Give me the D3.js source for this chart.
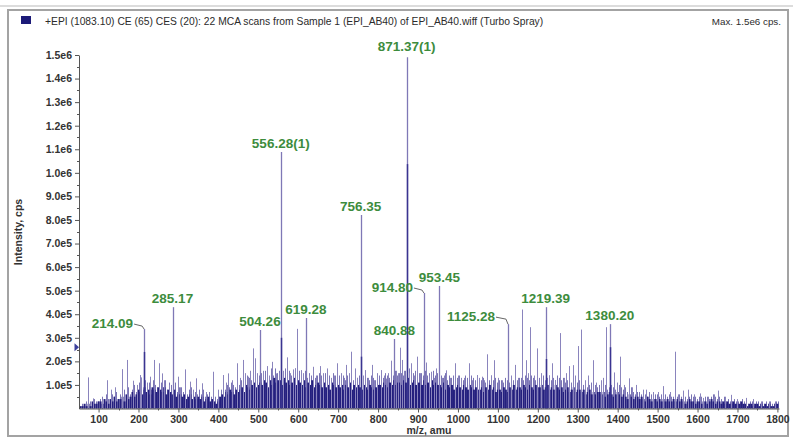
<!DOCTYPE html>
<html>
<head>
<meta charset="utf-8">
<script src="https://cdn.jsdelivr.net/npm/d3@7"></script>
<style>
  html, body { margin: 0; padding: 0; background: #fff; }
  svg { display: block; font-family: "Liberation Sans", Arial, sans-serif; }
</style>
</head>
<body>
<svg id="chart" width="793" height="440"></svg>
<script>
// ---- header text ----
const titleText = "+EPI (1083.10) CE (65) CES (20): 22 MCA scans from Sample 1 (EPI_AB40) of EPI_AB40.wiff (Turbo Spray)";
const maxText = "Max. 1.5e6 cps.";
const xAxisTitle = "m/z, amu";
const yAxisTitle = "Intensity, cps";

// ---- axis ticks ----
const xTickValues = [100, 200, 300, 400, 500, 600, 700, 800, 900, 1000, 1100, 1200, 1300, 1400, 1500, 1600, 1700, 1800];
const yTickValues = [1e5, 2e5, 3e5, 4e5, 5e5, 6e5, 7e5, 8e5, 9e5, 1e6, 1.1e6, 1.2e6, 1.3e6, 1.4e6, 1.5e6];
const yTickLabels = ["1.0e5", "2.0e5", "3.0e5", "4.0e5", "5.0e5", "6.0e5", "7.0e5", "8.0e5", "9.0e5",
                     "1.0e6", "1.1e6", "1.2e6", "1.3e6", "1.4e6", "1.5e6"];

// ---- labelled peaks (m/z, intensity in cps) ----
const peakMz = [214.09, 285.17, 504.26, 556.28, 619.28, 756.35, 840.88, 871.37, 914.80, 953.45, 1125.28, 1219.39, 1380.20];
const peakIntensity = [3.37e5, 4.30e5, 3.33e5, 1.088e6, 3.84e5, 8.21e5, 2.95e5, 1.49e6, 4.90e5, 5.20e5, 3.58e5, 4.30e5, 3.58e5];
const peakLabels = ["214.09", "285.17", "504.26", "556.28(1)", "619.28", "756.35", "840.88", "871.37(1)", "914.80", "953.45", "1125.28", "1219.39", "1380.20"];

// ---- isotope partners of the labelled ions ----
const isotopeMz = [215.09, 557.28, 757.35, 872.37, 1220.39, 1381.20];
const isotopeIntensity = [2.4e5, 3.0e5, 2.2e5, 1.037e6, 2.1e5, 2.6e5];

// ---- unlabelled fragment sticks (m/z, intensity in units of 1e5 cps) ----
const spikeMz = [74.5, 86, 109, 121, 132, 140, 159, 171, 186, 195, 203, 207, 222, 229, 240, 251, 258, 265, 276,
  298, 305, 316, 329, 337, 344, 358, 370, 386, 398, 412, 418, 425, 435, 446, 453, 461, 467, 473, 480, 486, 492, 498,
  512, 521, 527, 534, 544, 551, 563, 573, 580, 586, 591, 597, 606, 613, 627, 638, 645, 655, 662, 673, 681, 690, 698,
  708, 714, 720, 727, 732, 741, 748, 762, 768, 775, 784, 790, 797, 808, 815, 821, 826, 832, 845, 849, 855, 861, 866,
  877, 883, 890, 898, 905, 921, 927, 933, 940, 946, 959, 965, 971, 980, 993, 1000, 1007, 1015, 1028, 1036, 1047,
  1053, 1059, 1066, 1074, 1082, 1091, 1100, 1111, 1133, 1143, 1150, 1161, 1170, 1176, 1181, 1190, 1199, 1208, 1227,
  1235, 1244, 1256, 1265, 1270, 1279, 1287, 1293, 1300, 1307, 1318, 1326, 1339, 1346, 1357, 1364, 1371, 1391, 1398,
  1406, 1415, 1428, 1437, 1446, 1464, 1472, 1489, 1500, 1513, 1530, 1543, 1552, 1563, 1575, 1590, 1605, 1614, 1625,
  1640, 1652, 1668, 1683, 1700, 1722, 1740, 1760, 1779, 1795];
const spikeIntensity = [1.32, 0.43, 0.36, 1.2, 0.8, 0.9, 1.67, 2.06, 1.18, 1.0, 1.42, 1.32, 1.1, 1.35, 2.06, 1.92, 1.49, 1.2, 1.0,
  1.35, 0.9, 1.66, 1.14, 0.8, 1.28, 1.07, 0.7, 1.56, 0.8, 1.42, 1.1, 1.49, 1.2, 1.92, 1.3, 2.06, 1.5, 1.35, 1.6, 2.55, 2.13, 1.5,
  1.6, 1.8, 1.4, 1.98, 1.49, 1.5, 1.6, 2.17, 1.5, 1.66, 1.7, 3.38, 1.63, 1.5, 1.4, 1.77, 1.4, 1.8, 1.5, 1.7, 1.3, 1.4, 1.92,
  1.5, 1.3, 1.85, 1.5, 2.41, 1.7, 1.3, 1.4, 1.63, 1.3, 1.85, 1.2, 1.5, 1.63, 1.4, 1.27, 1.5, 2.03, 1.6, 1.5, 2.58, 2.06, 1.6,
  1.5, 1.92, 1.4, 2.2, 1.5, 1.95, 1.4, 1.56, 1.3, 1.7, 1.3, 1.4, 1.62, 1.3, 1.92, 1.4, 1.28, 1.3, 1.92, 1.2, 1.42,
  1.3, 1.35, 1.2, 2.3, 1.4, 2.05, 1.3, 1.2, 1.4, 1.85, 1.3, 4.2, 2.05, 1.5, 3.45, 1.4, 2.55, 1.5, 1.4,
  1.92, 1.2, 3.2, 1.3, 1.5, 1.8, 1.84, 1.4, 2.65, 3.35, 1.2, 1.4, 2.05, 1.1, 1.2, 1.3, 3.45, 1.53, 1.1,
  2.2, 1.0, 1.28, 0.9, 1.0, 0.8, 0.8, 0.7, 0.7, 0.95, 0.7, 2.41, 0.6, 0.76, 0.8, 0.6, 0.64, 0.45, 0.5,
  0.6, 0.76, 0.5, 0.58, 0.4, 0.45, 0.4, 0.3, 0.3, 0.3];

// ---- dense chemical background on a 5 amu grid from m/z 55 (units of 1e4 cps) ----
const backgroundStartMz = 55;
const backgroundStepMz = 5;
// solid lower continuum
const backgroundLevel = [
  1,1,2,1,2,1,3,2,2,3,   3,2,4,3,2,4,3,5,3,4,   4,5,3,6,4,5,7,5,6,8,   7,6,9,7,8,6,9,8,7,9,
  8,7,9,6,8,7,6,8,5,6,   6,5,6,4,5,6,4,5,4,5,   4,5,3,4,5,3,4,3,2,3,   5,6,5,7,6,8,7,6,8,7,
  8,9,7,10,9,8,10,11,9,10,  11,10,12,11,9,12,10,13,11,12,  12,10,13,11,12,10,11,13,10,12,
  11,10,12,9,11,10,12,9,10,11,  10,9,11,9,10,8,11,10,9,10,  9,10,8,10,9,11,8,10,9,10,
  9,8,10,9,8,10,9,8,9,10,  10,9,11,10,9,11,10,12,10,11,  11,10,12,11,13,10,11,12,10,11,
  11,10,12,10,11,9,12,10,11,10,  10,9,11,8,10,9,10,8,9,10,  9,8,10,9,8,10,9,8,9,8,
  8,9,7,9,8,10,8,9,7,8,   8,7,9,8,7,9,8,10,8,9,   9,8,10,9,8,10,9,8,10,9,   9,10,8,9,10,8,9,8,10,9,
  8,9,7,8,9,7,8,9,7,8,    8,7,8,6,7,8,6,7,6,7,    7,6,7,5,6,7,6,5,6,7,    6,5,6,5,4,6,5,4,5,5,
  4,5,4,3,5,4,3,4,4,3,    4,3,4,3,4,3,3,4,3,4,    3,4,3,2,3,4,3,3,2,3,    3,2,3,3,2,3,4,3,2,3,
  3,2,3,2,3,2,2,3,2,2,    2,3,2,2,1,2,2,1,2,2,    1,2,1,2,1,2,1,1,2,2
];
// lighter upper fringe of the continuum, sampled half a step later
const fringeLevel = [
  2,1,3,2,3,2,4,3,3,4,   5,3,6,4,3,6,5,7,4,6,   6,8,5,9,6,8,10,7,9,11,   10,8,12,9,11,8,12,10,9,12,
  11,9,12,8,11,10,8,11,7,9,   9,7,8,6,8,9,6,7,6,8,   6,8,5,6,7,5,6,5,4,5,   8,9,8,10,9,11,10,9,12,10,
  12,13,10,14,13,12,14,15,12,14,  15,14,16,15,13,17,14,17,15,16,  16,14,17,15,16,14,15,17,14,16,
  15,14,16,13,15,14,16,13,14,15,  14,13,15,13,14,12,15,14,13,14,  13,14,12,14,13,15,12,14,13,14,
  13,12,14,13,12,14,13,12,13,14,  14,13,15,14,13,15,14,16,14,15,  15,14,16,15,17,14,15,16,14,15,
  15,14,16,14,15,13,16,14,15,14,  14,13,15,12,14,13,14,12,13,14,  13,12,14,13,12,14,13,12,13,12,
  12,13,11,13,12,14,12,13,11,12,  12,11,13,12,11,13,12,14,12,13,  13,12,14,13,12,14,13,12,14,13,
  13,14,12,13,14,12,13,12,14,13,  12,13,11,12,13,11,12,13,11,12,  11,10,11,9,10,11,9,10,9,10,
  10,9,10,8,9,10,9,8,9,10,  9,8,9,7,6,9,7,6,7,7,   6,7,6,5,7,6,5,6,6,5,   6,5,6,5,6,5,5,6,5,6,
  5,6,5,4,5,6,5,5,4,5,   5,4,5,5,4,5,6,5,4,5,   4,3,5,3,4,3,3,4,3,3,   3,4,3,3,2,3,3,2,3,3,
  2,3,2,3,2,3,2,2,3,3
];

// level of the acquisition threshold marker on the intensity axis
const thresholdIntensity = 2.6e5;

// ---- label placement (pixel offsets from the peak apex) ----
const labelLayout = {
  "214.09":    { dx: -11, dy: -1, anchor: "end", leader: true },
  "914.80":    { dx: -11, dy: -1, anchor: "end", leader: true },
  "1125.28":   { dx: -13, dy: -3, anchor: "end", leader: true },
  "871.37(1)": { dx: 0, dy: -6, anchor: "middle" }
};
const defaultLayout = { dx: 0, dy: -4, anchor: "middle" };

// ---- drawing ----
const W = 793, H = 440;
const svg = d3.select("#chart");

const colors = {
  frame: "#a3a3a3",
  text: "#2b2b2b",
  axis: "#555",
  background: "#241f7e",
  fringe: "#7a74b5",
  stick: "#8a84bd",
  peak: "#7f78b6",
  isotope: "#3a3491",
  label: "#3d8c3d",
  legend: "#1c1a78"
};

svg.append("rect").attr("width", W).attr("height", H).attr("fill", "#fff");

// window frame
svg.append("line").attr("x1", 0).attr("x2", W).attr("y1", 6).attr("y2", 6)
  .attr("stroke", "#dcdcdc").attr("stroke-width", 2);
svg.append("rect").attr("x", 8).attr("y", 10).attr("width", 780).attr("height", 426)
  .attr("fill", "none").attr("stroke", colors.frame).attr("stroke-width", 2);

// header
svg.append("rect").attr("x", 21).attr("y", 16).attr("width", 10).attr("height", 8).attr("fill", colors.legend);
svg.append("text").attr("x", 45).attr("y", 24.5).attr("font-size", 10.3).attr("fill", colors.text).text(titleText);
svg.append("text").attr("x", 781).attr("y", 24.5).attr("font-size", 9.8).attr("fill", colors.text)
  .attr("text-anchor", "end").text(maxText);

// scales
const x = d3.scaleLinear().domain([51, 1804]).range([79, 779]);
const y = d3.scaleLinear().domain([0, 1.5e6]).range([408.5, 55]);
const px = v => Math.round(x(v)) + 0.5;

const plot = svg.append("g");

// upper fringe of the continuum (thin lighter sticks between the solid ones)
plot.append("g").selectAll("line").data(fringeLevel).join("line")
  .attr("x1", (d, i) => px(backgroundStartMz + (i + 0.5) * backgroundStepMz))
  .attr("x2", (d, i) => px(backgroundStartMz + (i + 0.5) * backgroundStepMz))
  .attr("y1", y(0))
  .attr("y2", d => y(d * 1e4))
  .attr("stroke", colors.fringe).attr("stroke-width", 1);

// solid continuum
plot.append("g").selectAll("rect").data(backgroundLevel).join("rect")
  .attr("x", (d, i) => x(backgroundStartMz + i * backgroundStepMz) - 1)
  .attr("width", 2)
  .attr("y", d => y(d * 1e4))
  .attr("height", d => y(0) - y(d * 1e4))
  .attr("fill", colors.background);

// unlabelled sticks
plot.append("g").selectAll("line").data(spikeMz).join("line")
  .attr("x1", d => px(d)).attr("x2", d => px(d))
  .attr("y1", y(0))
  .attr("y2", (d, i) => y(spikeIntensity[i] * 1e5))
  .attr("stroke", colors.stick).attr("stroke-width", 1);

// labelled peaks
plot.append("g").selectAll("line").data(peakMz).join("line")
  .attr("x1", d => px(d)).attr("x2", d => px(d))
  .attr("y1", y(0))
  .attr("y2", (d, i) => y(peakIntensity[i]))
  .attr("stroke", colors.peak).attr("stroke-width", 1.3);

// isotope partners (overlap the monoisotopic stick)
plot.append("g").selectAll("line").data(isotopeMz).join("line")
  .attr("x1", d => px(d - 1)).attr("x2", d => px(d - 1))
  .attr("y1", y(0))
  .attr("y2", (d, i) => y(isotopeIntensity[i]))
  .attr("stroke", colors.isotope).attr("stroke-width", 1.5);

// axes
const yAxis = d3.axisLeft(y).tickValues(yTickValues)
  .tickFormat((d, i) => yTickLabels[i]).tickSize(4).tickSizeOuter(0).tickPadding(3);
const xAxis = d3.axisBottom(x).tickValues(xTickValues)
  .tickFormat(d => String(d)).tickSize(4).tickSizeOuter(0).tickPadding(3);

const gy = svg.append("g").attr("transform", "translate(79,0)").call(yAxis);
const gx = svg.append("g").attr("transform", "translate(0,408.5)").call(xAxis);
[gx, gy].forEach(g => {
  g.select(".domain").attr("stroke", colors.axis).attr("stroke-width", 1);
  g.selectAll(".tick line").attr("stroke", colors.axis);
  g.selectAll(".tick text").attr("fill", "#333").attr("font-size", 10.5).attr("font-weight", "bold")
    .attr("font-family", "Liberation Sans, Arial, sans-serif");
});

// minor ticks
const yMinor = d3.range(5e4, 1.5e6, 1e5);
svg.append("g").selectAll("line").data(yMinor).join("line")
  .attr("x1", 77).attr("x2", 79).attr("y1", d => Math.round(y(d)) + 0.5).attr("y2", d => Math.round(y(d)) + 0.5)
  .attr("stroke", colors.axis);
const xMinor = d3.range(150, 1800, 100);
svg.append("g").selectAll("line").data(xMinor).join("line")
  .attr("x1", d => px(d)).attr("x2", d => px(d)).attr("y1", 408.5).attr("y2", 410.5)
  .attr("stroke", colors.axis);

// threshold marker
const ty = y(thresholdIntensity);
svg.append("path")
  .attr("d", `M74.5,${ty - 4}L79,${ty}L74.5,${ty + 4}Z`)
  .attr("fill", "#3b3f9c");

// axis titles
svg.append("text").attr("transform", "translate(22,232) rotate(-90)")
  .attr("text-anchor", "middle").attr("font-size", 10.5).attr("font-weight", "bold").attr("fill", "#333")
  .text(yAxisTitle);
svg.append("text").attr("x", 429).attr("y", 434).attr("text-anchor", "middle")
  .attr("font-size", 10.5).attr("font-weight", "bold").attr("fill", "#333").text(xAxisTitle);

// peak labels with leader lines where offset
const labels = svg.append("g");
peakMz.forEach((mz, i) => {
  const txt = peakLabels[i];
  const L = labelLayout[txt] || defaultLayout;
  const x0 = x(mz), y0 = y(peakIntensity[i]);
  labels.append("text")
    .attr("x", x0 + L.dx).attr("y", y0 + L.dy)
    .attr("text-anchor", L.anchor)
    .attr("font-size", 13.5).attr("font-weight", "bold").attr("fill", colors.label)
    .text(txt);
  if (L.leader) {
    labels.append("polyline")
      .attr("points", `${x0 + L.dx + 1},${y0 + L.dy - 4} ${x0 - 2},${y0 + L.dy - 2} ${x0},${y0}`)
      .attr("fill", "none").attr("stroke", "#666").attr("stroke-width", 1);
  }
});
</script>
</body>
</html>
